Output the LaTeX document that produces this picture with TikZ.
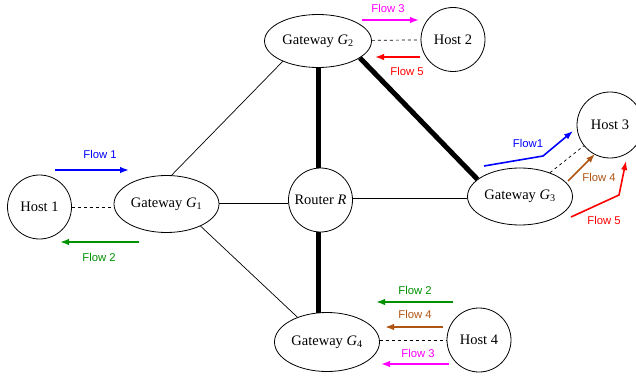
\documentclass[tikz,border=0pt]{standalone}
\usepackage{fontspec}
\setmainfont{Liberation Serif}
\newfontfamily\flowfont{Liberation Sans}
\usetikzlibrary{arrows.meta,shapes.geometric}
\definecolor{fblue}{RGB}{0,0,255}
\definecolor{fgreen}{RGB}{0,145,0}
\definecolor{fmag}{RGB}{255,0,255}
\definecolor{fred}{RGB}{255,0,0}
\definecolor{fbrown}{RGB}{175,85,20}
\tikzset{
  host/.style={circle,draw,line width=0.8pt,minimum size=64pt,inner sep=0pt},
  gw/.style={ellipse,draw,line width=0.8pt,minimum width=105pt,minimum height=57pt,inner sep=0pt},
  thinlink/.style={line width=0.7pt},
  thicklink/.style={line width=5pt},
  dashlink/.style={line width=0.7pt,dashed},
  flowarrow/.style={line width=1.6pt,-{Latex[length=9pt,width=6.5pt]}},
  flowlab/.style={font=\flowfont\fontsize{11.3}{13}\selectfont,inner sep=0pt}
}
\begin{document}
\begin{tikzpicture}[x=1pt,y=-1pt,font=\fontsize{14.5}{16}\selectfont]
\useasboundingbox (0,0) rectangle (636,377);
% nodes
\node[host] (H1) at (39.5,207) {Host 1};
\node[gw] (G1) at (166.5,204) {Gateway \textit{G}\textsubscript{1}};
\node[gw,minimum width=107pt,minimum height=53pt] (G2) at (318,41) {Gateway \textit{G}\textsubscript{2}};
\node[host] (H2) at (453,39.5) {Host 2};
\node[host,minimum size=64pt] (R) at (320.5,200) {Router \textit{R}};
\node[gw] (G3) at (520,196.5) {Gateway \textit{G}\textsubscript{3}};
\node[host,minimum size=66pt] (H3) at (610,125) {Host 3};
\node[gw,minimum height=59pt] (G4) at (327,342) {Gateway \textit{G}\textsubscript{4}};
\node[host] (H4) at (479,340) {Host 4};
% links
\draw[thinlink] (G1.80) -- (G2.210);
\draw[thinlink] (G1.-33) -- (G4.140);
\draw[thinlink] (G1.east |- 0,203) -- (R.west |- 0,203);
\draw[thinlink] (R.east |- 0,198) -- (G3.west |- 0,198);
\draw[thicklink] (G2.south) -- (G2.south |- R.north);
\draw[thicklink] (R.south -| G2) -- ([yshift=-0.5pt]G4.north -| G2);
\draw[thicklink] (G2.-22) -- (G3.158);
\draw[dashlink] (H1) -- (G1.west |- H1);
\draw[dashlink] (G2) -- (H2);
\draw[dashlink] (G3) -- (H3);
\draw[dashlink] (G4.east |- H4) -- (H4);
% flows near G1
\coordinate (f1a) at (55,170); \coordinate (f1b) at (129,170);
\draw[flowarrow,fblue] (f1a) -- (f1b);
\node[flowlab,fblue] (l1) at (100,154) {Flow 1};
\coordinate (f2a) at (139,242); \coordinate (f2b) at (60,242);
\draw[flowarrow,fgreen] (f2a) -- (f2b);
\node[flowlab,fgreen] (l2) at (99,257) {Flow 2};
% flows near G2/H2
\coordinate (f3a) at (362,20); \coordinate (f3b) at (419,20);
\draw[flowarrow,fmag] (f3a) -- (f3b);
\node[flowlab,fmag] (l3) at (388,8) {Flow 3};
\coordinate (f5a) at (420,57); \coordinate (f5b) at (375,57);
\draw[flowarrow,fred] (f5a) -- (f5b);
\node[flowlab,fred] (l5) at (407,71) {Flow 5};
% flows near G3/H3
\coordinate (g1a) at (484,166); \coordinate (g1m) at (543,156); \coordinate (g1b) at (573,131);
\draw[flowarrow,fblue] (g1a) -- (g1m) -- (g1b);
\node[flowlab,fblue] (m1) at (528,143) {Flow1};
\coordinate (g4a) at (568,181); \coordinate (g4b) at (595,154);
\draw[flowarrow,fbrown] (g4a) -- (g4b);
\node[flowlab,fbrown] (m4) at (599,177) {Flow 4};
\coordinate (g5a) at (571,217); \coordinate (g5m) at (619,195); \coordinate (g5b) at (626,161);
\draw[flowarrow,fred] (g5a) -- (g5m) -- (g5b);
\node[flowlab,fred] (m5) at (604,220) {Flow 5};
% flows near G4/H4
\coordinate (h2a) at (453,302); \coordinate (h2b) at (376,302);
\draw[flowarrow,fgreen] (h2a) -- (h2b);
\node[flowlab,fgreen] (n2) at (415,290) {Flow 2};
\coordinate (h4a) at (443,327); \coordinate (h4b) at (385,327);
\draw[flowarrow,fbrown] (h4a) -- (h4b);
\node[flowlab,fbrown] (n4) at (415,314) {Flow 4};
\coordinate (h3a) at (449,364); \coordinate (h3b) at (381,364);
\draw[flowarrow,fmag] (h3a) -- (h3b);
\node[flowlab,fmag] (n3) at (418,353) {Flow 3};
\end{tikzpicture}
\end{document}
